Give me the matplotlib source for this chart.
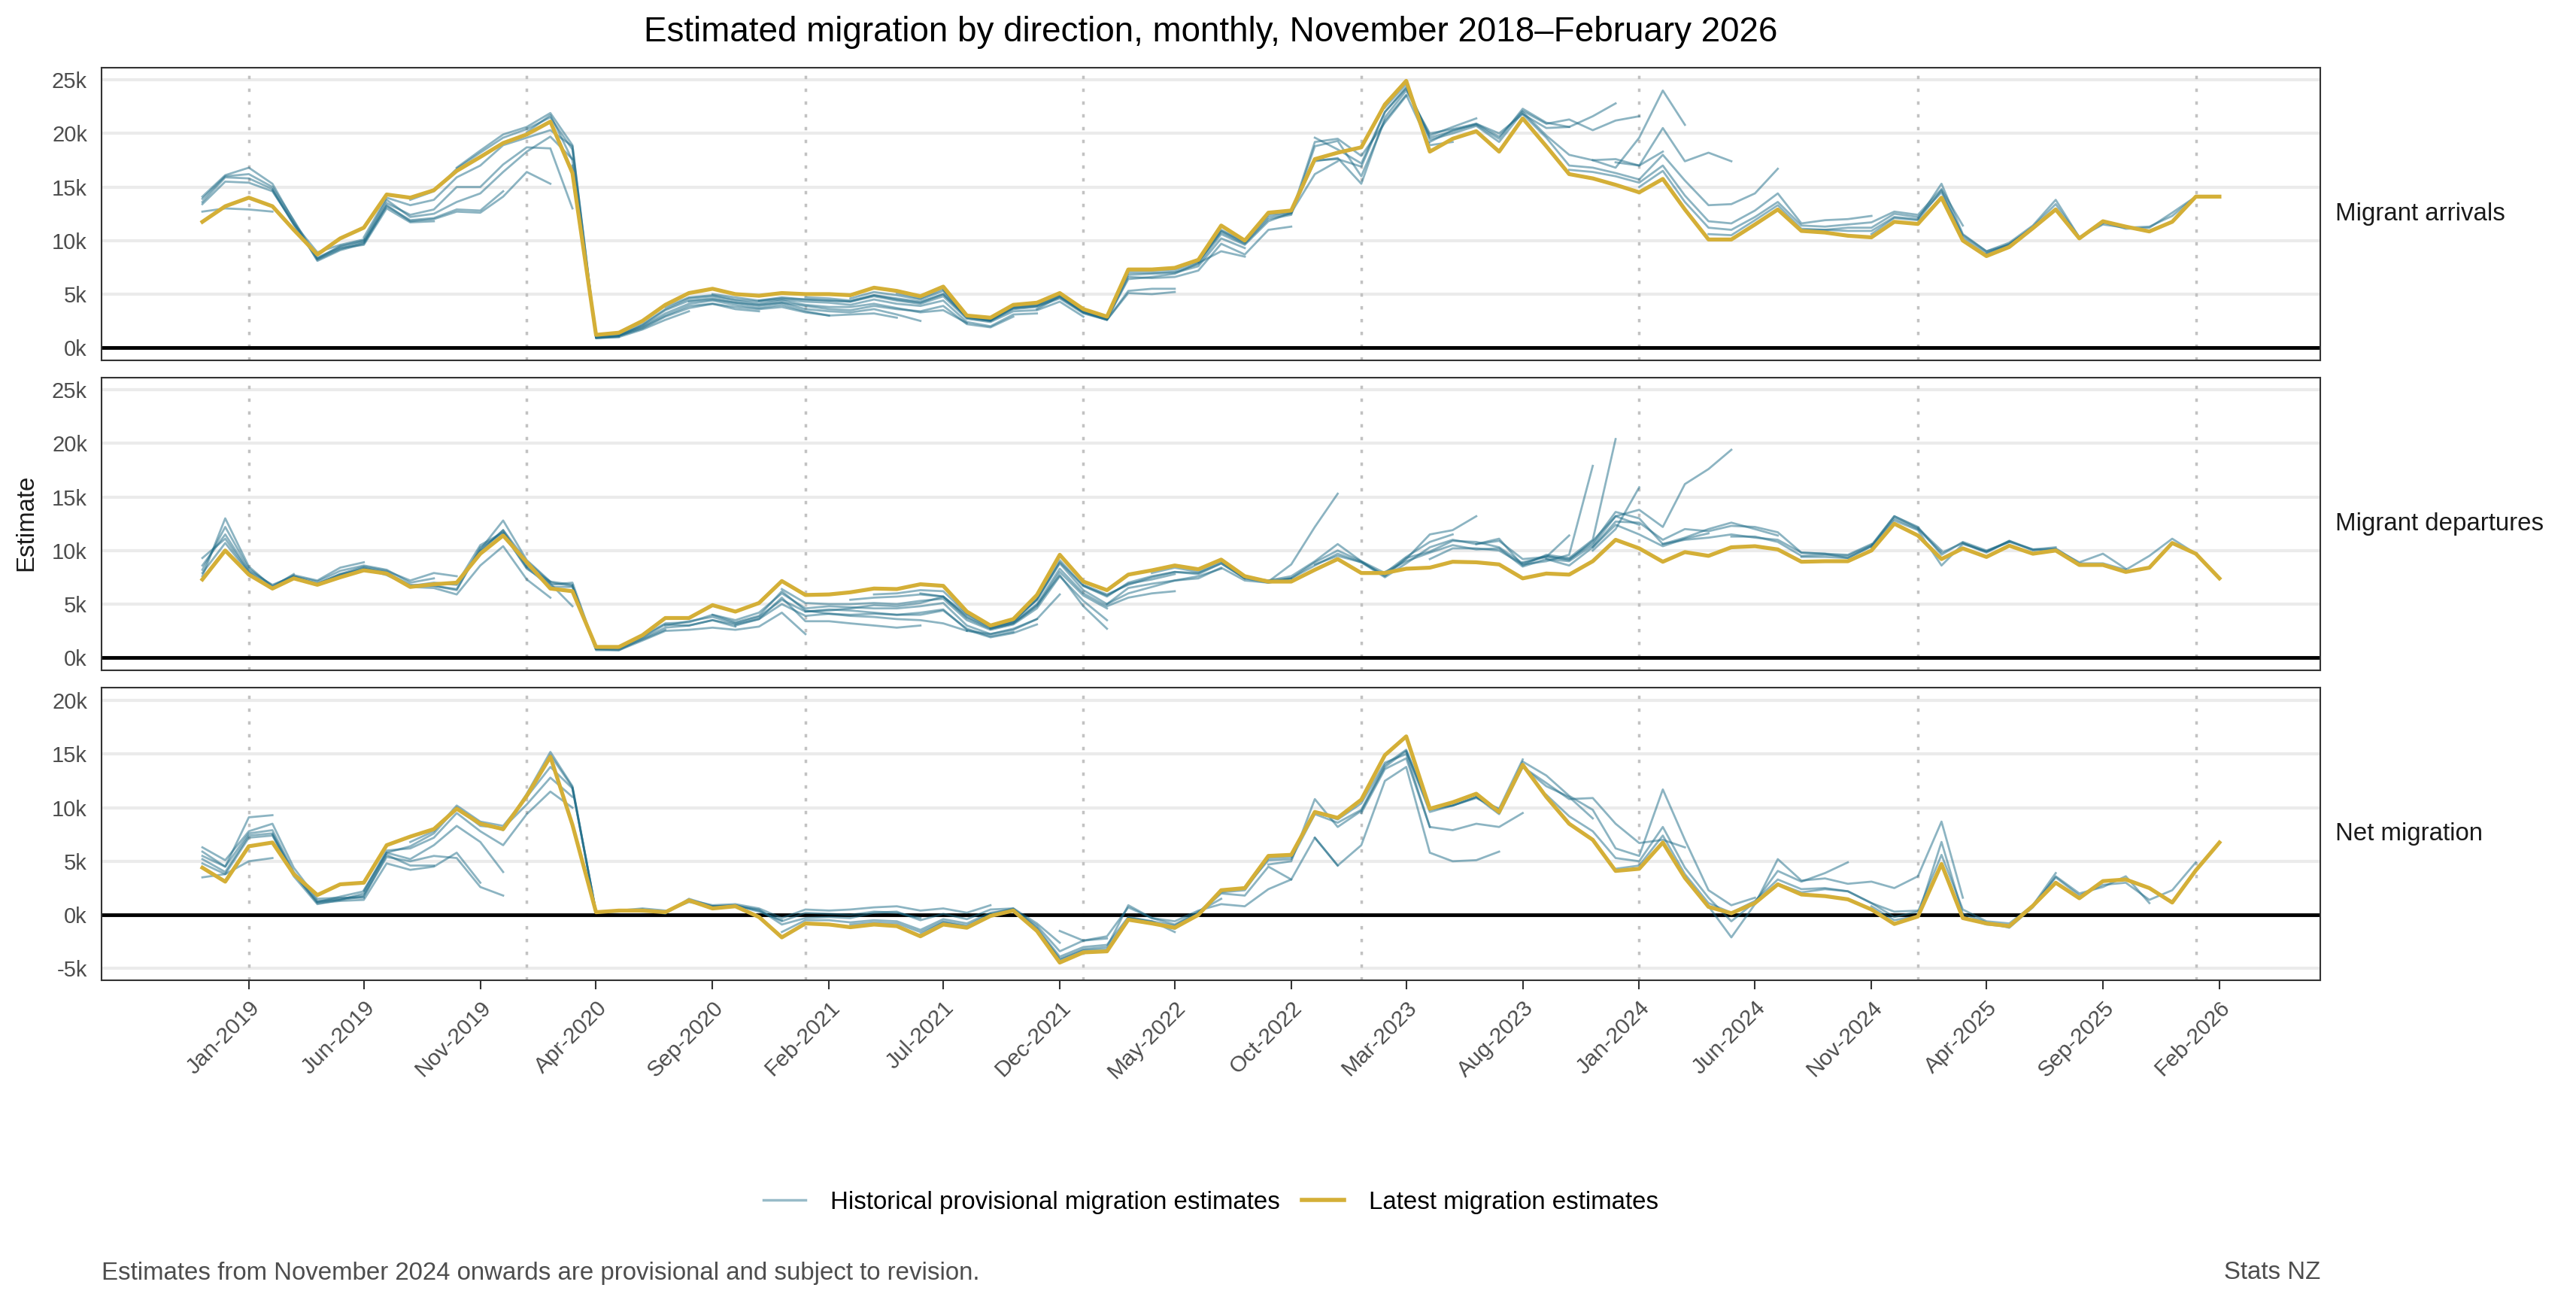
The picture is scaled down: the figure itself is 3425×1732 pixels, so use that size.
import numpy as np
import pandas as pd
import matplotlib
matplotlib.use("Agg")
import matplotlib.pyplot as plt
from matplotlib.lines import Line2D
from matplotlib.ticker import FuncFormatter

plt.rcParams["font.family"] = ["Liberation Sans", "DejaVu Sans"]

# ---- data (thousands of people) ----
months = pd.date_range("2018-11-01", "2026-02-01", freq="MS")

arrivals_latest = [
    11.75, 13.2, 14.0, 13.2, 11.0, 8.7, 10.2, 11.2, 14.3, 14.0, 14.7, 16.5, 17.8, 19.1, 19.9, 21.1, 16.3,
    1.2, 1.4, 2.5, 4.0, 5.1, 5.5, 5.0, 4.85, 5.1, 5.0, 5.0, 4.9, 5.6, 5.3, 4.8, 5.7, 3.0, 2.8, 4.0, 4.2,
    5.1, 3.6, 2.9, 7.3, 7.3, 7.45, 8.2, 11.4, 10.0, 12.6, 12.8, 17.6, 18.2, 18.7, 22.7, 24.9, 18.3, 19.5,
    20.2, 18.3, 21.4, 18.8, 16.2, 15.8, 15.2, 14.5, 15.75, 12.9, 10.1, 10.1, 11.5, 12.9, 10.9, 10.75,
    10.45, 10.3, 11.75, 11.55, 14.0, 10.0, 8.55, 9.4, 11.15, 12.9, 10.2, 11.8, 11.3, 10.85, 11.75, 14.1, 14.1,
]
departures_latest = [
    7.3, 10.0, 7.75, 6.45, 7.4, 6.8, 7.5, 8.15, 7.85, 6.6, 6.85, 7.0, 9.7, 11.4, 8.9, 6.45, 6.2, 1.0,
    1.0, 2.1, 3.7, 3.7, 4.9, 4.3, 5.1, 7.15, 5.85, 5.9, 6.1, 6.45, 6.4, 6.85, 6.7, 4.3, 3.0, 3.6, 5.85,
    9.6, 7.1, 6.3, 7.75, 8.15, 8.6, 8.25, 9.15, 7.6, 7.1, 7.1, 8.2, 9.2, 7.9, 7.9, 8.3, 8.4, 8.95, 8.9,
    8.7, 7.4, 7.85, 7.75, 9.0, 11.0, 10.2, 8.95, 9.85, 9.5, 10.3, 10.4, 10.1, 8.95, 9.0, 9.0, 10.0, 12.5,
    11.4, 9.2, 10.2, 9.4, 10.45, 9.7, 10.0, 8.65, 8.65, 8.0, 8.4, 10.7, 9.7, 7.4,
]
net_latest = [
    4.4, 3.1, 6.4, 6.75, 3.8, 1.85, 2.85, 3.0, 6.5, 7.3, 8.0, 9.9, 8.5, 8.0, 11.1, 14.75, 8.4, 0.25,
    0.4, 0.4, 0.25, 1.35, 0.6, 0.8, -0.2, -2.1, -0.8, -0.9, -1.15, -0.9, -1.05, -2.0, -0.9, -1.2, -0.1,
    0.4, -1.5, -4.45, -3.5, -3.4, -0.45, -0.8, -1.2, 0.0, 2.3, 2.5, 5.5, 5.6, 9.6, 9.05, 10.75, 14.9,
    16.65, 9.9, 10.5, 11.3, 9.6, 14.0, 11.0, 8.5, 7.0, 4.1, 4.3, 6.75, 3.45, 0.75, 0.15, 1.1, 2.85, 1.9,
    1.75, 1.45, 0.5, -0.85, -0.15, 4.75, -0.3, -0.8, -1.05, 0.85, 3.0, 1.55, 3.15, 3.3, 2.5, 1.15, 4.15, 6.75,
]

# historical provisional releases: (first month shown, estimates)
arrivals_hist = [
    ("2018-11", [12.7, 13.0, 12.9, 12.7]),
    ("2018-11", [13.4, 15.5, 15.4, 14.6, 11.6, 8.9, 9.6, 10.1]),
    ("2018-11", [13.9, 16.0, 16.2, 15.0, 11.9, 8.3, 9.3, 9.6, 13.0, 11.7, 11.8]),
    ("2018-11", [13.6, 15.9, 15.8, 14.8, 11.5, 8.2, 9.2, 9.8, 13.2, 11.9, 12.1, 12.9, 12.8, 14.6]),
    ("2018-11", [14.1, 16.1, 16.8, 15.3, 11.8, 8.1, 9.1, 9.7, 13.3, 11.8, 12.0, 12.7, 12.6, 14.1, 16.4, 15.3]),
    ("2019-02", [14.7, 11.5, 8.4, 9.4, 9.9, 13.5, 12.4, 12.9, 15.0, 15.0, 17.1, 18.7, 18.6, 13.0]),
    ("2019-04", [8.3, 9.5, 10.0, 13.8, 12.2, 12.5, 13.6, 14.4, 16.4, 18.3, 19.7, 17.6]),
    ("2019-06", [10.3, 14.0, 13.3, 13.8, 15.9, 17.0, 18.9, 19.6, 20.3, 18.8, 0.9, 1.0]),
    ("2019-08", [13.8, 14.6, 16.7, 18.2, 19.6, 20.4, 21.5, 18.5, 0.9, 1.0, 1.7, 2.6, 3.4]),
    ("2019-10", [16.8, 18.4, 19.9, 20.6, 21.9, 18.9, 0.9, 1.1, 1.8, 2.9, 3.7, 4.1, 3.6, 3.4]),
    ("2020-01", [20.1, 21.7, 17.5, 1.0, 1.2, 2.0, 3.2, 4.1, 4.4, 4.0, 3.7, 4.0, 3.4, 3.0]),
    ("2020-03", [17.0, 1.0, 1.1, 2.1, 3.5, 4.4, 4.6, 4.2, 3.9, 4.2, 3.6, 3.4, 3.3, 3.6, 3.1, 2.5]),
    ("2020-04", [1.0, 1.1, 1.9, 3.0, 3.9, 4.1, 3.8, 3.6, 3.8, 3.3, 3.0, 3.1, 3.2, 2.8]),
    ("2020-05", [1.2, 2.2, 3.6, 4.6, 4.8, 4.4, 4.1, 4.4, 4.0, 3.8, 3.8, 4.1, 3.7, 3.3, 3.5, 2.3]),
    ("2020-07", [3.8, 4.7, 4.9, 4.5, 4.3, 4.5, 4.3, 4.2, 4.0, 4.5, 4.1, 3.9, 4.4, 2.4, 2.0, 3.1, 3.2]),
    ("2020-08", [4.3, 4.5, 4.2, 4.0, 4.2, 3.9, 3.6, 3.5, 3.9, 3.6, 3.4, 3.9, 2.2, 1.9, 2.9]),
    ("2020-09", [5.0, 4.7, 4.4, 4.7, 4.5, 4.4, 4.3, 4.8, 4.4, 4.1, 4.8, 2.7, 2.4, 3.4, 3.5, 4.3, 2.9]),
    ("2020-11", [4.4, 4.6, 4.5, 4.4, 4.3, 4.9, 4.5, 4.2, 5.0, 2.9, 2.6, 3.7, 3.9, 4.7, 3.3, 2.7]),
    ("2021-01", [4.7, 4.6, 4.4, 4.9, 4.6, 4.3, 5.0, 2.8, 2.5, 3.6, 3.8, 4.6, 3.2, 2.6, 5.3, 5.5, 5.5]),
    ("2021-03", [4.6, 5.2, 4.9, 4.5, 5.3, 2.8, 2.5, 3.7, 3.9, 4.8, 3.3, 2.6, 5.1, 5.0, 5.2]),
    ("2021-05", [5.1, 4.6, 5.5, 2.9, 2.6, 3.8, 4.0, 4.9, 3.4, 2.7, 6.4, 6.6, 6.9, 7.9, 9.0, 8.5]),
    ("2021-07", [5.4, 2.9, 2.6, 3.9, 4.1, 5.0, 3.5, 2.8, 6.8, 6.9, 7.0, 7.6, 10.2, 9.3]),
    ("2021-09", [2.7, 3.9, 4.1, 5.0, 3.5, 2.8, 7.0, 7.0, 7.1, 7.8, 10.6, 9.6, 11.8, 12.6, 16.2, 17.4]),
    ("2021-11", [3.6, 4.8, 3.3, 2.6, 6.6, 6.5, 6.6, 7.2, 9.7, 8.7, 11.0, 11.3]),
    ("2022-01", [3.5, 2.8, 7.2, 7.2, 7.3, 8.0, 10.9, 9.8, 12.2, 12.5, 19.2, 19.5, 17.9, 21.0, 23.5]),
    ("2022-04", [7.3, 7.4, 8.1, 11.0, 9.9, 12.4, 12.6, 17.5, 17.6, 16.9, 22.0, 24.2, 19.8, 20.6, 21.4]),
    ("2022-06", [8.0, 10.8, 9.7, 12.0, 12.4, 18.8, 19.3, 16.0, 21.2, 23.6, 18.9, 19.2]),
    ("2022-08", [9.9, 12.5, 12.7, 17.4, 17.7, 15.3, 21.5, 24.0, 20.0, 20.4, 20.9, 20.0, 21.8, 20.5, 20.6]),
    ("2022-11", [19.6, 18.5, 17.2, 22.0, 24.3, 19.6, 20.2, 20.9, 19.7, 22.1, 20.9, 21.3, 20.3, 21.2, 21.6]),
    ("2023-02", [22.4, 24.6, 19.4, 20.0, 20.7, 19.2, 22.0, 19.8, 18.0, 17.5, 17.6, 17.0, 18.3]),
    ("2023-04", [19.2, 20.3, 20.8, 19.5, 22.3, 21.0, 20.6, 21.6, 22.8]),
    ("2023-08", [21.8, 19.6, 17.0, 16.8, 16.3, 15.7, 18.0, 15.6, 13.3, 13.4, 14.4, 16.7]),
    ("2023-10", [16.6, 16.4, 16.0, 15.4, 17.0, 14.2, 11.8, 11.6, 12.8, 14.4, 11.6, 11.9, 12.0, 12.3]),
    ("2023-11", [17.5, 16.8, 19.6, 24.0, 20.8]),
    ("2023-12", [17.3, 17.0, 20.5, 17.4, 18.2, 17.4]),
    ("2024-01", [15.0, 16.5, 13.6, 11.2, 11.0, 12.2, 13.6, 11.4, 11.3, 11.5, 11.7, 12.7, 12.4, 14.8, 11.4]),
    ("2024-04", [10.6, 10.5, 11.9, 13.3, 11.1, 11.0, 11.2, 11.2, 12.5, 12.2, 14.5, 10.5, 9.0, 9.6, 11.2]),
    ("2024-08", [11.0, 11.0, 10.9, 10.9, 12.2, 12.0, 15.3, 10.6, 9.0, 9.8, 11.4, 13.8, 10.3, 11.6]),
    ("2024-11", [10.6, 12.1, 11.9, 14.7, 10.3, 8.8, 9.6, 11.3, 13.4, 10.3, 11.5, 11.2, 11.3, 12.3, 14.1]),
    ("2025-04", [8.8, 9.7, 11.2, 13.0, 10.3, 11.7, 11.1, 11.2, 12.6, 14.1]),
]

departures_hist = [
    ("2018-11", [7.6, 13.0, 8.5, 6.6, 7.8]),
    ("2018-11", [8.2, 12.2, 8.3, 6.7, 7.7, 7.2, 8.4, 8.9]),
    ("2018-11", [8.6, 11.5, 8.1, 6.8, 7.6, 7.1, 8.1, 8.6, 8.2, 7.0, 7.4]),
    ("2018-11", [9.3, 11.1, 8.0, 6.5, 7.5, 6.9, 7.8, 8.5, 8.1, 7.2, 7.9, 7.6]),
    ("2018-11", [7.9, 10.7, 7.9, 6.4, 7.6, 6.8, 7.7, 8.4, 7.9, 6.7, 7.0, 6.8, 9.9, 11.9, 8.5, 7.1]),
    ("2019-02", [6.5, 7.5, 6.9, 7.6, 8.3, 8.0, 6.6, 6.5, 5.9, 8.6, 10.4, 7.3, 5.6]),
    ("2019-04", [6.9, 7.8, 8.2, 7.9, 6.8, 6.7, 6.4, 10.1, 12.8, 9.1, 7.1, 6.8]),
    ("2019-06", [8.3, 7.7, 6.7, 6.7, 6.3, 10.3, 11.6, 8.3, 6.9, 4.8]),
    ("2019-08", [6.6, 6.8, 6.9, 10.0, 11.9, 9.0, 7.0, 6.7, 0.8, 0.8, 1.7, 2.6]),
    ("2019-10", [6.9, 10.5, 11.7, 8.8, 6.8, 7.0, 0.8, 0.7, 1.8, 2.8, 3.0, 3.5, 2.9]),
    ("2019-12", [11.6, 8.4, 6.6, 6.6, 0.7, 0.7, 1.6, 2.5, 2.6, 2.8, 2.6, 2.9, 4.2, 2.2]),
    ("2020-03", [6.7, 0.8, 0.9, 1.9, 3.1, 3.0, 3.5, 3.1, 3.6, 5.6, 3.4, 3.4, 3.2, 3.0, 2.8, 3.0]),
    ("2020-05", [0.9, 2.0, 3.2, 3.3, 4.0, 3.3, 3.9, 6.2, 4.4, 4.1, 3.9, 3.8, 3.6, 3.5, 3.2, 2.5]),
    ("2020-07", [3.0, 3.4, 3.8, 3.2, 3.8, 5.4, 4.3, 4.5, 4.4, 4.2, 4.0, 4.0, 4.4, 2.7, 2.0, 2.4]),
    ("2020-09", [4.0, 3.5, 4.2, 6.0, 4.6, 4.8, 4.7, 4.6, 4.6, 4.8, 5.1, 3.0, 2.2, 2.7, 3.6, 5.9]),
    ("2020-10", [3.0, 3.6, 5.0, 3.9, 4.1, 4.0, 4.1, 4.0, 4.2, 4.5, 2.6, 1.9, 2.3, 3.1]),
    ("2020-12", [6.4, 5.1, 5.0, 5.0, 5.1, 5.0, 5.3, 5.5, 3.5, 2.6, 3.1, 4.6, 7.6, 5.3, 3.5]),
    ("2021-01", [4.3, 4.4, 4.6, 4.9, 4.8, 5.1, 5.7, 3.7, 2.7, 3.2, 4.8, 8.0, 5.8, 4.6]),
    ("2021-03", [5.4, 5.6, 5.7, 5.9, 5.7, 3.8, 2.8, 3.3, 5.0, 8.3, 6.0, 4.8, 5.6, 6.0, 6.2]),
    ("2021-04", [5.9, 6.0, 6.3, 6.2, 4.1, 2.9, 3.5, 5.4, 8.9, 6.7, 5.8, 6.9, 7.3, 7.8]),
    ("2021-06", [6.0, 5.7, 4.0, 2.9, 3.4, 5.4, 8.8, 6.3, 5.0, 6.5, 6.9, 7.2, 7.6, 8.3]),
    ("2021-08", [2.5, 2.2, 2.6, 3.6]),
    ("2021-09", [2.7, 3.2, 4.9, 7.7, 4.8, 2.7]),
    ("2021-09", [2.8, 3.4, 5.5, 9.1, 6.7, 5.7, 7.0, 7.6, 8.0, 7.8, 8.8, 7.4]),
    ("2022-01", [6.8, 5.9, 6.8, 7.5, 8.0, 7.9, 8.8, 7.4, 7.1, 8.7, 12.2, 15.3]),
    ("2022-02", [5.0, 6.0, 6.6, 7.2, 7.4, 8.4, 7.2, 7.0, 7.4]),
    ("2022-04", [7.9, 8.4, 8.0, 9.0, 7.4, 7.0, 7.4, 8.9, 10.0, 9.0, 7.9, 9.4, 10.8, 11.5]),
    ("2022-07", [9.0, 7.5, 7.2, 7.6, 9.0, 10.6, 9.0, 7.6, 9.2, 11.5, 11.9, 13.2]),
    ("2022-09", [7.2, 7.4, 8.6, 9.7, 8.9, 7.5, 8.8, 10.3, 11.0, 10.6, 10.9, 9.2, 9.4, 11.4]),
    ("2022-11", [8.7, 9.5, 8.9, 7.7, 9.3, 9.9, 10.9, 10.8, 10.3, 8.8, 9.5, 9.1, 10.9, 13.2, 12.4]),
    ("2023-02", [8.0, 9.0, 9.8, 10.5, 10.1, 10.2, 8.5, 9.2, 8.6, 10.3, 12.4, 11.5, 10.4, 11.1, 11.6]),
    ("2023-04", [9.2, 10.2, 10.2, 10.0, 8.7, 9.0, 9.6, 17.9]),
    ("2023-06", [10.6, 11.1, 8.6, 9.6, 9.3, 11.0, 20.4]),
    ("2023-08", [8.9, 9.4, 9.2, 10.7, 13.6, 13.0, 10.6, 11.2, 12.0, 12.6, 12.0, 11.4]),
    ("2023-09", [9.2, 9.0, 10.5, 13.2, 13.8, 12.2, 16.2, 17.6, 19.4]),
    ("2023-11", [10.0, 12.0, 15.9]),
    ("2023-11", [10.3, 12.7, 12.6, 11.0, 12.0, 11.8, 12.3, 12.2, 11.7, 9.8, 9.7, 9.6, 10.6]),
    ("2024-02", [10.6, 11.0, 11.2, 11.5, 11.2, 11.0, 9.8, 9.7, 9.3, 10.4, 13.2, 12.1, 10.0]),
    ("2024-05", [11.3, 11.3, 10.8, 9.5, 9.6, 9.5, 10.5, 13.2, 12.2, 9.6, 10.8, 10.0, 10.8]),
    ("2024-08", [9.4, 9.4, 9.3, 10.4, 13.0, 12.0, 9.8, 10.7, 9.9, 10.9, 10.1, 10.3]),
    ("2024-11", [10.3, 12.8, 11.9, 8.6, 10.6, 9.9, 10.8, 10.1, 10.1, 8.9, 9.7, 8.3]),
    ("2025-03", [10.7, 9.8, 10.9, 10.0, 10.2, 8.8, 8.8, 8.2, 9.5, 11.1, 9.7]),
]

net_hist = [
    ("2018-11", [3.5, 3.8, 5.0, 5.3]),
    ("2018-11", [5.5, 4.5, 9.1, 9.3]),
    ("2018-11", [6.3, 5.1, 7.8, 8.5, 4.4, 1.5, 1.6, 1.6]),
    ("2018-11", [5.9, 4.5, 7.6, 7.9, 4.0, 1.3, 1.4, 1.7, 5.6, 4.6, 4.6]),
    ("2018-11", [5.2, 4.0, 7.4, 7.6, 3.9, 1.1, 1.3, 1.4, 4.8, 4.2, 4.5, 5.8, 3.0]),
    ("2018-11", [4.8, 3.8, 7.2, 7.4, 3.8, 1.2, 1.5, 1.8, 5.4, 5.0, 5.5, 5.3, 2.6, 1.8]),
    ("2019-02", [7.5, 3.6, 1.0, 1.4, 2.0, 5.8, 5.2, 6.5, 8.3, 6.8, 4.0]),
    ("2019-04", [1.2, 1.7, 2.2, 6.0, 6.2, 7.2, 9.5, 7.8, 6.5, 9.4, 11.5, 10.0]),
    ("2019-06", [2.3, 5.8, 6.4, 7.6, 10.0, 8.3, 8.1, 10.3, 12.8, 11.0]),
    ("2019-08", [6.8, 7.8, 10.2, 8.7, 8.3, 11.0, 13.8, 11.8, 0.3, 0.4, 0.6, 0.4]),
    ("2019-10", [10.0, 8.6, 7.9, 11.3, 15.2, 12.0, 0.2, 0.4, 0.3, 0.3, 1.2, 0.8, 0.8]),
    ("2020-01", [11.0, 14.9, 11.9, 0.2, 0.4, 0.5, 0.3, 1.3, 0.7, 0.9, 0.3, -0.5]),
    ("2020-03", [11.8, 0.2, 0.3, 0.5, 0.1, 1.5, 0.8, 0.9, 0.4, -0.6, 0.2, 0.1, 0.0, 0.3, 0.2, -0.3]),
    ("2020-06", [0.4, 0.3, 1.4, 0.9, 1.0, 0.6, -0.3, 0.5, 0.4, 0.5, 0.7, 0.8, 0.4, 0.6, 0.2, 0.9]),
    ("2020-09", [0.8, 0.8, 0.5, -0.9, -0.3, -0.2, -0.3, 0.2, 0.3, -0.5, 0.1, -0.4, 0.5, 0.6, -0.8, -2.6]),
    ("2020-12", [-1.6, -0.5, -0.5, -0.7, -0.5, -0.6, -1.4, -0.4, -0.8, 0.2, 0.5, -1.0, -3.4, -2.4, -2.2]),
    ("2021-03", [-0.9, -0.7, -0.8, -1.6, -0.6, -1.0, 0.1, 0.6, -1.2, -3.9, -3.0, -2.8, -0.2, -0.6, -1.6]),
    ("2021-06", [-1.8, -0.7, -1.1, -0.1, 0.5, -1.3, -4.1, -3.2, -3.0, 0.9, -0.3, -0.9, 0.3, 1.5]),
    ("2021-09", [0.0, 0.4, -1.4, -4.2, -3.3, -3.2, -0.3, -0.7, -1.3, 0.1, 2.0, 1.8, 4.5, 3.3]),
    ("2021-12", [-1.5, -2.4, -2.0, 0.7, -0.3, -0.6, 0.4, 1.0, 0.8, 2.4, 3.3, 7.2, 4.6]),
    ("2022-03", [-0.3, -0.6, -1.0, 0.2, 2.1, 2.3, 5.3, 5.4, 9.6, 8.9, 10.4, 14.2, 15.0, 8.2]),
    ("2022-06", [0.2, 2.2, 2.5, 5.1, 5.2, 9.4, 8.6, 9.8, 14.0, 15.4, 10.0, 10.2, 10.9, 9.9, 14.5]),
    ("2022-09", [4.7, 5.0, 10.8, 8.2, 9.7, 13.8, 15.3, 9.8, 10.2, 11.0, 9.4, 13.8, 12.0, 11.0, 9.0]),
    ("2022-11", [7.2, 4.6, 6.5, 12.5, 13.8, 5.8, 5.0, 5.1, 5.9]),
    ("2023-01", [9.5, 13.6, 14.6, 8.2, 7.9, 8.5, 8.2, 9.5]),
    ("2023-03", [15.2, 9.6, 10.2, 11.0, 9.8, 13.8, 12.3, 10.8, 10.9, 8.5, 6.7, 7.0, 6.3]),
    ("2023-06", [11.1, 9.5, 14.3, 13.0, 11.1, 9.8, 6.2, 5.5, 11.7, 7.0, 2.3, 0.9, 1.6]),
    ("2023-09", [11.2, 9.2, 7.8, 5.3, 5.0, 8.2, 4.4, 1.6, -0.6, 1.2, 4.1, 3.1, 3.9, 4.9]),
    ("2023-12", [4.3, 4.6, 7.4, 3.8, 1.1, 0.2, 1.3, 3.3, 2.4, 2.5, 2.2, 1.1, 0.3, 0.4]),
    ("2024-03", [3.6, 0.8, -2.1, 1.0, 5.2, 3.2, 3.4, 2.9, 3.1, 2.5, 3.6, 8.7, 1.6]),
    ("2024-07", [2.9, 2.1, 2.4, 2.2, 1.1, -0.2, 0.3, 5.6, 0.5, -0.6, -0.8, 0.9, 3.9]),
    ("2024-11", [0.8, -0.5, -0.1, 6.8, 0.1, -0.7, -1.2, 0.7, 3.6, 2.0, 2.6, 3.6, 1.1]),
    ("2025-03", [-0.2, -0.9, -1.1, 0.9, 3.5, 1.8, 2.8, 3.0, 1.4, 2.3, 4.9]),
]

panel_names = ["Migrant arrivals", "Migrant departures", "Net migration"]

HIST = "#1B6A86"
GOLD = "#D4AF37"
TEXT = "#4D4D4D"

W, H, DPI = 3425, 1732, 250
fig = plt.figure(figsize=(W / DPI, H / DPI), dpi=DPI)

month_pos = {m.strftime("%Y-%m"): i for i, m in enumerate(months)}
jan_lines = [m for m in months if m.month == 1]
tick_dates = months[2::5]

x0 = matplotlib.dates.date2num(months[0])
x1 = matplotlib.dates.date2num(months[-1])
xpad = 0.05 * (x1 - x0)

left, right = 135 / W, 3085 / W
ph = 389 / H
panel_tops = [90, 502, 914]
ylims = [(-1.18, 26.13), (-1.18, 26.13), (-6.1, 21.2)]
yticks = [[0, 5, 10, 15, 20, 25], [0, 5, 10, 15, 20, 25], [-5, 0, 5, 10, 15, 20]]
latest = [arrivals_latest, departures_latest, net_latest]
hist = [arrivals_hist, departures_hist, net_hist]

for k in range(3):
    bottom = 1 - (panel_tops[k] + 389) / H
    ax = fig.add_axes([left, bottom, right - left, ph])

    for yv in yticks[k]:
        ax.axhline(yv, color="#EBEBEB", lw=1.2, zorder=0)
    for d in jan_lines:
        ax.axvline(d, color="#C2C2C2", lw=1.0, ls=(0, (1.3, 3.6)), zorder=0.5)
    ax.axhline(0, color="black", lw=1.4, zorder=1)

    for start, vals in hist[k]:
        i = month_pos[start]
        assert i + len(vals) <= len(months)
        ax.plot(months[i:i + len(vals)], vals, color=HIST, lw=0.8, alpha=0.5,
                solid_joinstyle="round", zorder=2)
    assert len(latest[k]) == len(months)
    ax.plot(months, latest[k], color=GOLD, lw=1.5, solid_joinstyle="round", zorder=3)

    ax.set_xlim(x0 - xpad, x1 + xpad)
    ax.set_ylim(*ylims[k])
    ax.set_yticks(yticks[k])
    ax.yaxis.set_major_formatter(FuncFormatter(lambda v, p: f"{v:.0f}k"))
    ax.tick_params(axis="y", length=0, pad=5.5, labelsize=8.4, labelcolor=TEXT)
    for s in ax.spines.values():
        s.set_color("#333333")
        s.set_linewidth(0.6)

    ax.set_xticks(tick_dates)
    if k < 2:
        ax.tick_params(axis="x", length=0, labelbottom=False)
    else:
        ax.set_xticklabels([d.strftime("%b-%Y") for d in tick_dates], rotation=45,
                           ha="right", va="top", rotation_mode="anchor")
        ax.tick_params(axis="x", length=3.4, width=0.6, color="#333333", pad=3,
                       labelsize=8.6, labelcolor=TEXT)

    fig.text(3105 / W, bottom + ph / 2, panel_names[k], ha="left", va="center",
             fontsize=9.5, color="#1A1A1A")

cx = (left + right) / 2
fig.text(cx, 1 - 55 / H, "Estimated migration by direction, monthly, November 2018\u2013February 2026",
         ha="center", va="baseline", fontsize=13.2, color="black")
fig.text(35 / W, 1 - 695 / H, "Estimate", rotation=90, ha="center", va="center",
         fontsize=9.5, color="#1A1A1A")

handles = [
    Line2D([], [], color=HIST, alpha=0.45, lw=1.0),
    Line2D([], [], color=GOLD, lw=1.6),
]
fig.legend(handles, ["Historical provisional migration estimates", "Latest migration estimates"],
           loc="center", bbox_to_anchor=(cx, 1 - 1598 / H), ncol=2, frameon=False,
           fontsize=9.5, handlelength=1.7, handletextpad=1.0, columnspacing=0.9)

fig.text(left, 1 - 1692 / H, "Estimates from November 2024 onwards are provisional and subject to revision.",
         ha="left", va="center", fontsize=9.5, color=TEXT)
fig.text(right, 1 - 1692 / H, "Stats NZ", ha="right", va="center", fontsize=9.5, color=TEXT)

fig.savefig("out.png", dpi=DPI)
plt.close(fig)
